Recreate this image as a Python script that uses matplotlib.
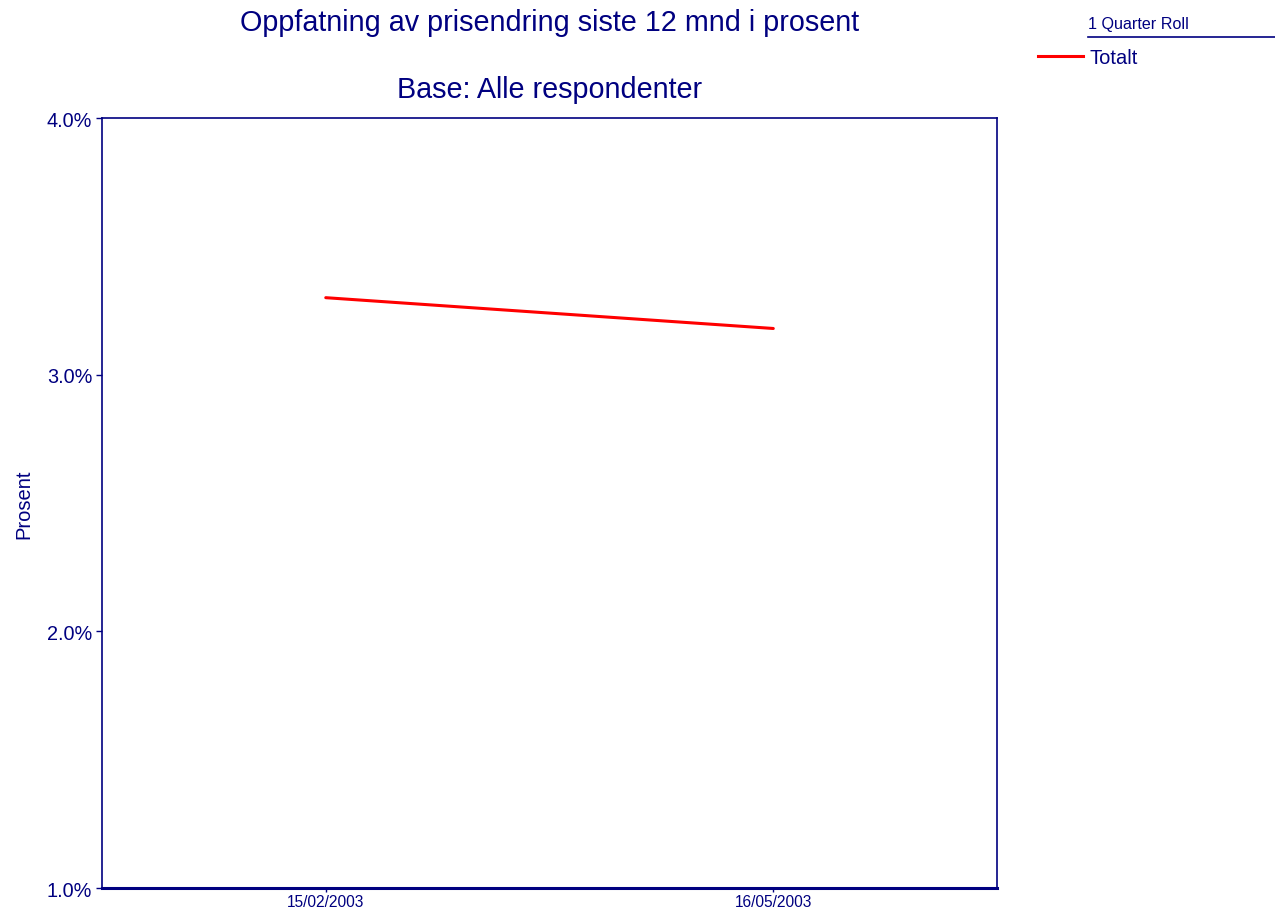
import matplotlib.pyplot as plt
from matplotlib.lines import Line2D
from matplotlib.ticker import PercentFormatter

plt.rcParams['font.family'] = ['Liberation Sans', 'DejaVu Sans']

navy = '#000080'

dates = ['15/02/2003', '16/05/2003']
totalt = [3.30, 3.18]
yticks = [1.0, 2.0, 3.0, 4.0]

fig = plt.figure(figsize=(12.75, 9.12), dpi=100)
ax = fig.add_axes([0.08, 0.0252, 0.702, 0.8443])

x = list(range(len(dates)))
ax.plot(x, totalt, color='red', lw=2.2, solid_capstyle='round')

ax.set_xlim(-0.5, len(dates) - 0.5)
ax.set_ylim(1.0, 4.0)
ax.set_xticks(x)
ax.set_xticklabels(dates)
ax.set_yticks(yticks)
ax.yaxis.set_major_formatter(PercentFormatter(decimals=1))

for side, sp in ax.spines.items():
    sp.set_color(navy)
    sp.set_linewidth(1.2)
ax.spines['bottom'].set_linewidth(2.2)

ax.tick_params(axis='y', colors=navy, labelsize=14.3, length=4, width=1, pad=3)
ax.tick_params(axis='x', colors=navy, labelsize=11.2, length=3, width=1, pad=1)
ax.set_ylabel('Prosent', color=navy, fontsize=14.5, labelpad=10)

fig.text(0.431, 0.975, 'Oppfatning av prisendring siste 12 mnd i prosent',
         ha='center', va='center', color=navy, fontsize=20.7)
fig.text(0.431, 0.901, 'Base: Alle respondenter',
         ha='center', va='center', color=navy, fontsize=20.7)

# legend block
fig.text(0.853, 0.973, '1 Quarter Roll', ha='left', va='center', color=navy, fontsize=11.6)
fig.add_artist(Line2D([0.853, 1.0], [0.958, 0.958], color=navy, lw=1.2))
fig.legend([Line2D([], [], color='red', lw=2.2)], ['Totalt'],
           loc='center left', bbox_to_anchor=(0.814, 0.936), frameon=False,
           handlelength=2.25, handletextpad=0.3, borderaxespad=0, borderpad=0,
           fontsize=14.5, labelcolor=navy)

fig.savefig('out.png', dpi=100)
